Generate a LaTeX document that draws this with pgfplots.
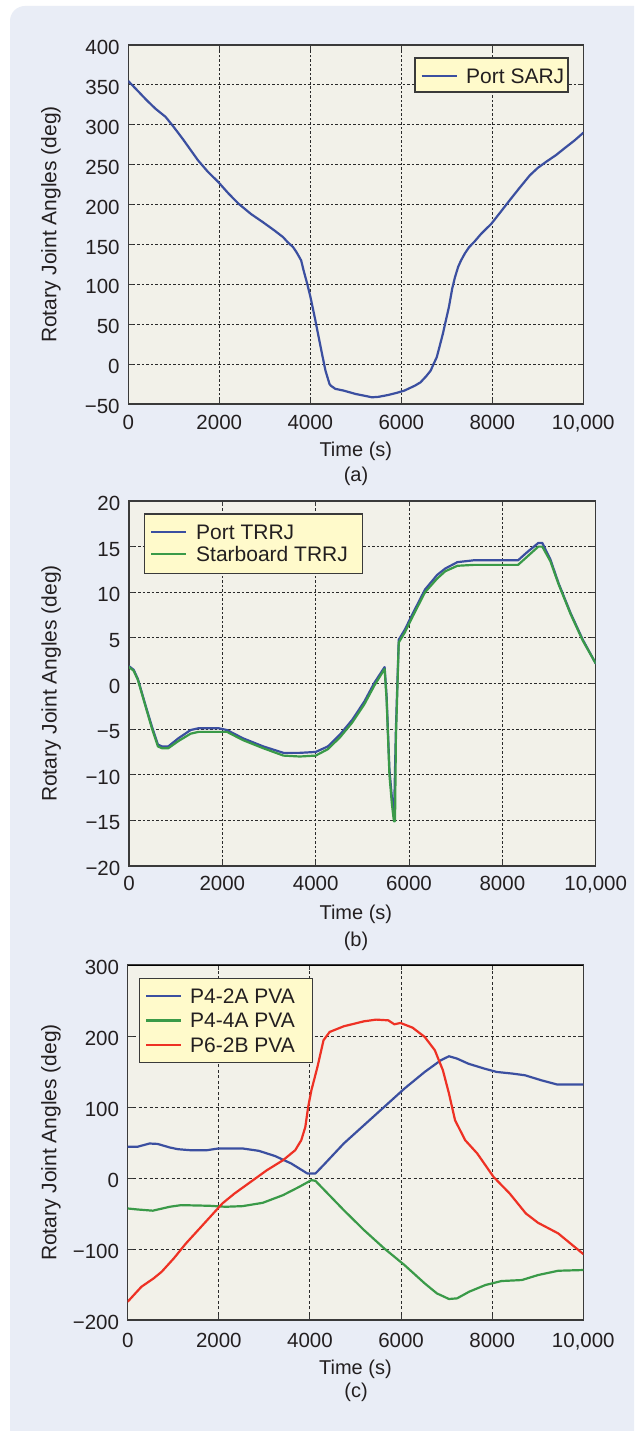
\documentclass[border=0pt]{standalone}
\usepackage{fontspec}
\setmainfont{Liberation Sans}
\usepackage{pgfplots}
\pgfplotsset{compat=1.18}

\definecolor{pagebg}{HTML}{E9EDF6}
\definecolor{plotbg}{HTML}{F2F1E9}
\definecolor{legbg}{HTML}{FFFACB}
\definecolor{axisgray}{HTML}{3A3A3A}
\definecolor{gridgray}{HTML}{2A2A2A}
\definecolor{labelgray}{HTML}{231F20}
\definecolor{sblue}{HTML}{3B4FA0}
\definecolor{sgreen}{HTML}{3A9A48}
\definecolor{sred}{HTML}{EE3124}

\newcommand{\labelfont}{\fontsize{20}{24}\selectfont}
\newcommand{\tickfont}{\fontsize{20.5}{24}\selectfont}
\newcommand{\legfont}{\fontsize{21}{25}\selectfont}

\pgfplotsset{
  rjpanel/.style={
    scale only axis,
    anchor=south west,
    xmin=0, xmax=10000,
    xtick={0,2000,4000,6000,8000,10000},
    xticklabels={0,2000,4000,6000,8000,{10,000}},
    scaled x ticks=false, scaled y ticks=false,
    /pgf/number format/assume math mode=true,
    axis background/.style={fill=plotbg},
    axis line style={draw=axisgray, line width=1.4pt},
    tick align=inside,
    major tick length=5pt,
    tick style={draw=axisgray, line width=1pt},
    grid=major,
    major grid style={draw=gridgray, line width=1pt, dash pattern=on 2.5pt off 2pt},
    tick label style={font=\tickfont, text=labelgray},
    xticklabel style={anchor=base, inner sep=0pt, yshift=-25.5pt},
    yticklabel style={anchor=east, inner sep=0pt, xshift=-8.5pt, yshift=-2.5pt},
    label style={text=labelgray},
    xlabel={Time (s)},
    ylabel={Rotary Joint Angles (deg)},
    xlabel style={font=\labelfont, anchor=base, inner sep=0pt},
    ylabel style={font=\fontsize{21}{25}\selectfont, anchor=base, inner sep=0pt},
    every axis plot/.append style={line width=2.2pt, line join=round, line cap=round},
  }
}

\begin{document}
\begin{tikzpicture}[x=1pt, y=1pt]
\useasboundingbox (0,0) rectangle (634,-1431);
\fill[white] (0,0) rectangle (634,-1431);
\fill[pagebg] (634,-1431) -- (10,-1431) -- (10,-21) arc[start angle=180, end angle=90, radius=15] -- (634,-6) -- cycle;

% (a) solar alpha rotary joint
\begin{axis}[rjpanel,
  at={(128.3pt,-404pt)}, width=455pt, height=359pt,
  ymin=-50, ymax=400,
  ytick={-50,0,50,100,150,200,250,300,350,400},
  yticklabels={−50,0,50,100,150,200,250,300,350,400},
  xlabel style={at={(axis description cs:0.5,0)}, yshift=-52pt},
  ylabel style={at={(axis description cs:-0.1578,0.5)}},
]
\addplot[sblue] table {
0 354.8
200 343
400 331
600 320
818 310
996 297.4
1200 282
1530 255.6
1750 241
1975 228.4
2200 214
2420 201.2
2700 188
2954 178.1
3200 168
3399 159.3
3500 153
3621 146.7
3700 140
3799 130
3850 118
3932 100.7
4000 85
4066 67.2
4100 58
4199 29.5
4250 15
4333 -8.1
4380 -17
4422 -24.9
4450 -27
4550 -31
4733 -33.2
5000 -37.5
5178 -39.5
5356 -41.6
5500 -41
5712 -38.7
5900 -36
6068 -33.2
6300 -27
6423 -22.8
6550 -15
6646 -8.1
6700 -1
6779 8.6
6850 24
6913 37.9
7000 60
7046 71.4
7120 95
7180 109
7250 122
7313 130
7400 139
7491 146.7
7600 153
7758 163.5
7980 176
8200 192
8381 205.3
8600 221
8826 236.7
9000 246
9181 253.5
9400 262
9626 272.3
9800 280
10000 290
};
\end{axis}

% (b) thermal radiator rotary joints
\begin{axis}[rjpanel,
  at={(129pt,-866pt)}, width=466.7pt, height=365pt,
  ymin=-20, ymax=20,
  ytick={-20,-15,-10,-5,0,5,10,15,20},
  yticklabels={−20,−15,−10,−5,0,5,10,15,20},
  xticklabel style={yshift=1.5pt},
  xlabel style={at={(axis description cs:0.486,0)}, yshift=-53.3pt},
  ylabel style={at={(axis description cs:-0.1553,0.5)}},
]
\addplot[sblue] table {
0 1.9
100 1.5
190 0.5
360 -2.5
490 -4.7
620 -6.7
710 -6.9
840 -6.9
1060 -6.0
1320 -5.1
1490 -4.9
1920 -4.9
2100 -5.1
2440 -6.0
2880 -6.9
3310 -7.6
3660 -7.6
4000 -7.5
4260 -6.9
4520 -5.6
4780 -4.0
5040 -2.0
5260 0.1
5477 1.8
5520 -1.4
5580 -9.4
5633 -12.5
5680 -14.2
5719 -5.0
5780 4.8
5910 5.9
6083 7.7
6343 10.3
6603 11.9
6776 12.6
7036 13.3
7383 13.5
8336 13.5
8510 14.3
8770 15.4
8856 15.4
9029 13.6
9203 11.0
9463 7.7
9723 4.8
10000 2.2
};
\addplot[sgreen] table {
0 1.8
100 1.4
190 0.4
360 -2.6
490 -4.9
620 -6.9
710 -7.1
840 -7.1
1060 -6.3
1320 -5.5
1490 -5.3
1920 -5.3
2100 -5.3
2440 -6.2
2880 -7.1
3310 -7.9
3660 -8.0
4000 -7.9
4260 -7.2
4520 -5.9
4780 -4.3
5040 -2.3
5260 -0.2
5477 1.6
5520 -1.8
5580 -10.0
5633 -13.2
5676 -15.1
5700 -15.1
5719 -6.0
5780 4.5
5910 5.6
6083 7.4
6343 10.0
6603 11.5
6776 12.3
7036 12.9
7383 13.0
8336 13.0
8510 13.8
8770 15.0
8856 15.0
9029 13.4
9203 10.9
9463 7.6
9723 4.7
10000 2.2
};
\end{axis}

% (c) photovoltaic array rotary joints
\begin{axis}[rjpanel,
  at={(127.7pt,-1320pt)}, width=455.6pt, height=355pt,
  ymin=-200, ymax=300,
  ytick={-200,-100,0,100,200,300},
  yticklabels={−200,−100,0,100,200,300},
  xticklabel style={yshift=-1.8pt},
  major grid style={draw=gridgray, line width=1pt, dash pattern=on 3pt off 2.5pt},
  xlabel style={at={(axis description cs:0.4998,0)}, yshift=-54pt},
  ylabel style={at={(axis description cs:-0.1563,0.5)}},
]
\addplot[sblue] table {
0 44
213 44
480 48.6
657 48
924 43
1101 40.6
1368 39.2
1723 39
1990 41.6
2522 41.6
2877 38.3
3233 31
3588 20.5
3943 6.4
4121 6.4
4298 18.2
4742 48.6
5186 74.4
5631 100.2
6075 126
6519 149.4
6874 165.9
7052 171.5
7229 168.2
7478 161
7833 154
8099 149.4
8455 147
8721 144.7
9076 137.7
9432 131.6
10000 131.6
};
\addplot[sgreen] table {
0 -42.9
213 -44.3
551 -46
924 -40.5
1172 -38.2
1794 -39.1
2149 -40.5
2522 -39.6
2966 -34.9
3410 -24.1
3766 -12.4
4032 -3
4121 -4
4742 -45.2
5186 -73.3
5631 -99.2
6075 -122.6
6519 -148.4
6786 -162.5
7052 -170.4
7229 -169.5
7496 -160.1
7851 -150.7
8206 -145.1
8650 -143.7
9005 -136.7
9449 -130.6
10000 -129.6
};
\addplot[sred] table {
0 -174.2
302 -153.1
568 -141.4
746 -132
1012 -113.2
1279 -92.1
1545 -73.4
1812 -54.6
2078 -35.8
2345 -21.8
2700 -5.4
3055 11
3410 25.1
3677 39.2
3810 53.3
3899 72
3961 100.2
4032 123.6
4165 156.5
4298 194
4432 205.7
4742 213.7
5186 220.7
5453 223.1
5719 222.1
5853 216.5
5986 218.4
6252 211.8
6519 198.7
6741 180
6918 151.8
7052 118.9
7185 81.4
7407 53.3
7673 34.5
8028 1.7
8384 -21.8
8739 -49.9
9005 -63
9449 -78
10000 -107.1
};
\draw[black, line width=2.4pt] (rel axis cs:0,1) -- (rel axis cs:1,1);
\end{axis}

% panel captions
\node[anchor=base, font=\labelfont, text=labelgray, inner sep=0pt] at (356,-481.3) {(a)};
\node[anchor=base, font=\labelfont, text=labelgray, inner sep=0pt] at (356,-946.3) {(b)};
\node[anchor=base, font=\labelfont, text=labelgray, inner sep=0pt] at (356,-1397.5) {(c)};

% legends
\begin{scope}[font=\legfont, every node/.style={anchor=base west, inner sep=0pt, text=labelgray}]
\draw[fill=legbg, draw=axisgray, line width=1.2pt] (415,-58) rectangle (568,-92);
\draw[sblue, line width=2.2pt] (421.7,-76) -- (457,-76);
\node at (466,-83.3) {Port SARJ};

\draw[fill=legbg, draw=axisgray, line width=1.2pt] (144.3,-514) rectangle (362.3,-573.3);
\draw[sblue, line width=2.2pt] (151,-532.3) -- (185.7,-532.3);
\draw[sgreen, line width=2.2pt] (151,-554.3) -- (185.7,-554.3);
\node at (196,-539.4) {Port TRRJ};
\node at (196,-561.5) {Starboard TRRJ};

\draw[fill=legbg, draw=axisgray, line width=1.2pt] (139.3,-978.3) rectangle (312.6,-1062.3);
\draw[sblue, line width=2.2pt] (146,-996) -- (180.7,-996);
\draw[sgreen, line width=2.2pt] (146,-1020.5) -- (180.7,-1020.5);
\draw[sred, line width=2.2pt] (146,-1045) -- (180.7,-1045);
\node at (190,-1003.2) {P4-2A PVA};
\node at (190,-1027.7) {P4-4A PVA};
\node at (190,-1052.2) {P6-2B PVA};
\end{scope}
\end{tikzpicture}
\end{document}
